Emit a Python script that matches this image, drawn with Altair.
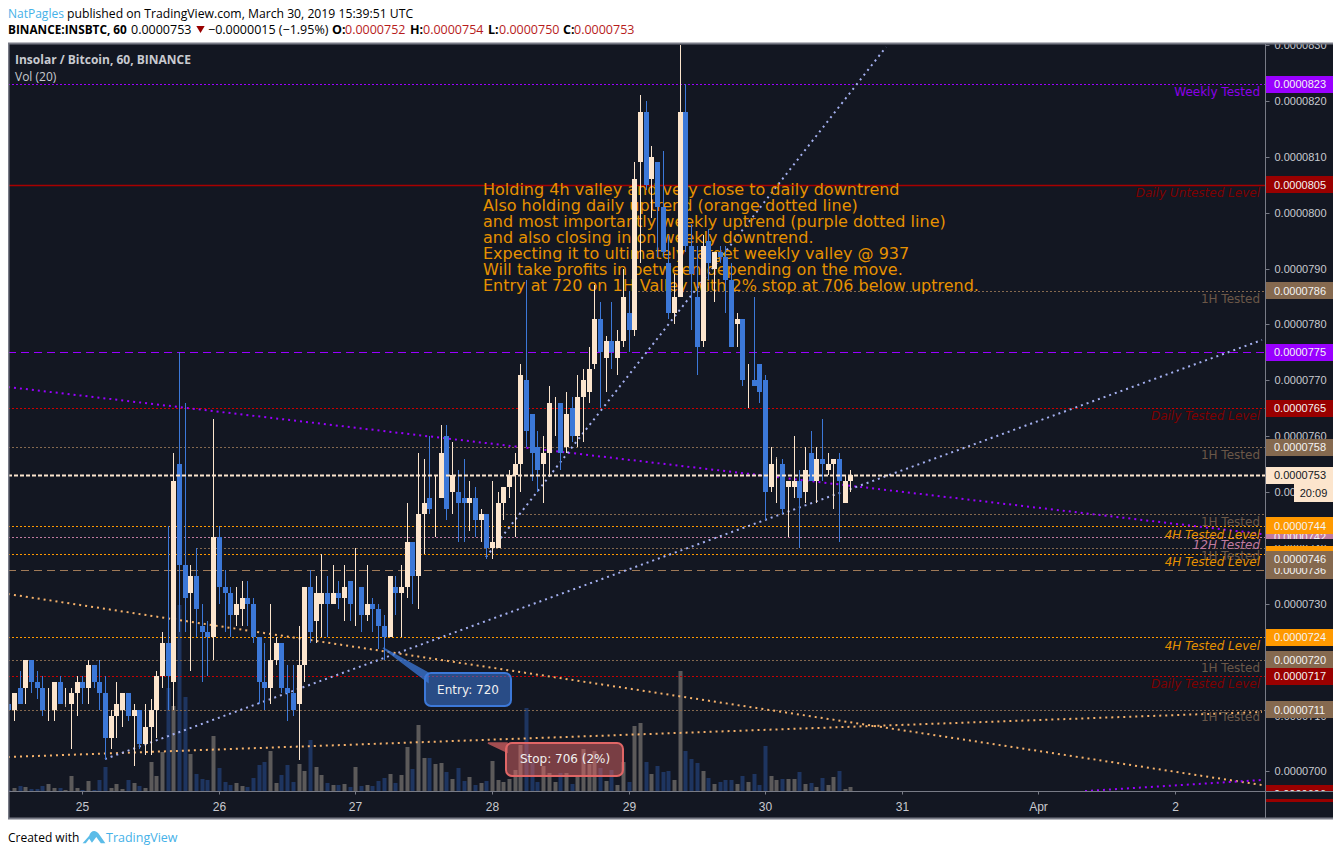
import altair as alt
import pandas as pd

# ---- hourly candles: hour index counted from 25 March 00:00, prices in 1e-7 BTC
FIRST_HOUR = -13
opens = [712,711,715,715,720,716,715,711,711,716,712,712,714,716,715,719,716,714,706,710,
         711,714,710,711,705,708,711,717,723,716,755,737,732,735,726,725,724,742,733,732,
         728,729,731,730,724,716,715,720,723,715,714,712,719,733,727,730,732,730,732,731,
         734,730,733,728,730,729,726,724,733,732,733,741,735,746,749,749,749,760,750,750,
         749,748,749,745,746,740,740,748,751,753,755,770,764,758,755,757,766,766,758,765,
         760,767,768,773,781,774,777,774,777,782,779,809,818,806,809,801,791,782,785,818,
         794,785,777,795,790,793,792,788,780,781,770,770,773,770,751,756,755,751,751,752,
         750,757,752,756,754,755,756,748,752]
closes = [711,714,712,720,716,715,711,711,716,712,712,714,716,715,719,716,714,706,710,712,
          714,710,711,705,708,711,717,723,717,752,737,731,735,729,725,724,742,733,732,728,
          730,731,730,724,716,715,720,723,715,714,711,719,733,725,732,732,730,732,731,733,
          730,730,728,730,729,726,724,735,732,733,741,735,746,748,747,749,757,747,753,748,
          748,749,745,746,740,741,748,751,753,755,771,761,757,754,757,766,766,757,764,760,
          767,770,772,781,775,777,775,777,785,779,806,818,805,810,801,793,782,785,818,794,
          789,776,794,791,793,792,788,776,781,770,770,769,768,750,755,756,747,752,752,749,
          754,752,756,755,755,756,752,752,753]
highs = [716,714,718,720,720,718,717,715,716,717,715,715,717,717,720,719,720,717,711,716,
         714,714,712,711,712,713,718,725,744,757,775,766,737,740,730,727,763,744,736,733,
         733,734,734,731,724,723,730,724,723,719,719,726,733,736,735,739,735,737,734,737,
         734,740,733,737,731,730,728,735,735,737,748,741,757,756,760,753,762,762,759,754,
         756,752,751,747,746,752,750,751,754,757,773,788,764,761,760,769,767,766,768,767,
         771,772,776,787,784,778,784,779,790,786,809,821,820,812,809,811,796,789,830,823,
         798,794,796,797,793,794,794,791,782,781,773,785,773,771,758,756,756,752,760,754,
         758,761,758,763,757,756,757,753,754]
lows = [707,709,712,712,714,713,710,709,709,712,712,704,710,712,712,715,711,702,704,706,
        708,709,701,704,703,703,706,715,711,711,725,725,718,724,716,717,720,730,725,724,
        726,726,726,723,712,711,712,719,714,709,710,702,716,723,723,724,724,730,729,727,
        727,726,725,727,725,722,720,724,728,724,731,730,729,739,746,742,749,745,746,741,
        741,743,742,741,738,738,740,745,749,742,750,758,752,750,748,753,760,754,757,759,
        758,759,766,772,765,768,772,771,776,775,778,791,804,799,792,792,781,780,785,793,
        779,771,776,788,784,791,782,776,776,769,765,769,766,745,750,748,746,742,749,740,
        748,752,748,752,753,747,741,748,750]
volumes = [1,3,5,4,2,2,5,7,3,3,1,15,3,1,10,1,11,24,3,7,
           2,11,8,5,3,29,15,39,103,85,186,94,37,17,12,11,55,23,9,6,
           8,5,4,13,26,29,40,8,16,26,9,27,20,51,24,16,8,6,6,7,
           4,24,5,6,5,10,13,17,8,16,44,22,66,33,33,27,28,19,12,23,
           10,14,6,8,10,30,11,9,12,21,46,83,28,9,25,18,9,18,18,7,
           16,42,27,40,23,10,21,6,29,9,65,68,29,17,25,19,20,11,120,40,
           32,28,20,13,7,9,11,11,7,15,9,17,6,45,15,11,12,12,12,19,
           7,8,4,13,6,14,20,2,4]

# ---- horizontal levels
level_prices = [823,805,786,775,765,758,746,744,742,740,739,736,724,720,717,711]
level_starts = [-13,-13,97,-13,-13,-13,73,-13,-13,20,-13,-13,-13,-13,-13,-13]
level_kinds  = ["purple_dot","dred_solid","brown","purple_dash","red_dot","brown","brown","orange","pink","brown","orange","brown_dash","orange","brown","red_dot","brown"]
KINDS = {
    "purple_dot": ("#9900ff", [2,2], 1),
    "dred_solid": ("#a80000", [20,0], 1.5),
    "purple_dash": ("#9900ff", [8,5], 1),
    "red_dot": ("#cc0000", [2,2], 1),
    "brown": ("#85694f", [2,2], 1),
    "brown_dash": ("#a07a58", [8,5], 1),
    "orange": ("#ff9900", [2,2], 1),
    "pink": ("#c27ba0", [2,2], 1),
}
LAST_PRICE = 753

# ---- trend lines: (hour, price) end points
trend_lines = [
    ("#9900ff", [-13.06,207.3], [768.8,742.5]),
    ("#f6b26b", [-13.06,207.3], [731.8,697.6]),
    ("#f6b26b", [-13.06,207.3], [702.5,710.7]),
    ("#a4b0f0", [4,207.3], [702.2,777.2]),
    ("#a4b0f0", [71,141.2], [738.3,829.7]),
    ("#9900ff", [176.2,207.3], [696.5,698.4]),
]

# ---- text
note_lines = [
    "Holding 4h valley and very close to daily downtrend",
    "Also holding daily uptrend (orange dotted line)",
    "and most importantly weekly uptrend (purple dotted line)",
    "and also closing in on weekly downtrend.",
    "Expecting it to ultimately target weekly valley @ 937",
    "Will take profits in between depending on the move.",
    "Entry at 720 on 1H Valley with 2% stop at 706 below uptrend.",
]
note_prices = [804.1,801.2,798.4,795.5,792.6,789.8,786.9]
level_labels = ["Weekly Tested","Daily Untested Level","1H Tested","Daily Tested Level","1H Tested","1H Tested",
                "4H Tested Level","12H Tested","1H Tested","4H Tested Level","4H Tested Level","1H Tested","Daily Tested Level","1H Tested"]
level_label_prices = [821.6,803.6,784.6,763.6,756.6,744.6,742.4,740.6,738.6,737.4,722.4,718.6,715.6,709.8]
level_label_kinds = ["#8b00e8","#7f0000","#6b5748","#7f0000","#6b5748","#6b5748","#e69100","#c27ba0","#6b5748","#e69100","#e69100","#6b5748","#7f0000","#6b5748"]
level_label_italic = [0,1,0,1,0,0,1,1,0,1,1,0,1,0]

# ---- price tags on the right axis (drawn in this order, later on top)
tag_texts  = ["0.0000823","0.0000805","0.0000786","0.0000775","0.0000765","0.0000758","0.0000753",
              "0.0000742","0.0000739","0.0000744","0.0000736","0.0000746","0.0000724","0.0000720","0.0000717","0.0000711","0.0000696"]
tag_prices = [823,805,786,775,765,758,753,742,738.8,744,736,738,724,720,717,711,696]
tag_colors = ["#9900ff","#990000","#85694f","#9900ff","#990000","#85694f","#fce5cd",
              "#c27ba0","#ff9900","#ff9900","#85694f","#85694f","#ff9900","#85694f","#990000","#85694f","#990000"]

y_ticks = [700,710,720,730,740,750,760,770,780,790,800,810,820,830]
x_ticks = [0,24,48,72,96,120,144,168,192]

# ---- layout
W, H = 1257, 747
RIGHT = 68
TOTAL = W + RIGHT
PAD = {"left":0,"top":36,"right":RIGHT,"bottom":54}
XMIN, XMAX = -13.06, 207.86
YMIN, YMAX = 696.5, 830.2
PX_PER_PRICE = 5.5875
BG = "#131722"; UP = "#fce5cd"; DOWN = "#3c78d8"; VOL_UP = "#5c5a5a"; VOL_DOWN = "#1e3560"
BORDER = "#787b86"; AXIS_TXT = "#c8cad0"; ORANGE = "#e69100"

xs = alt.Scale(domain=[XMIN, XMAX], nice=False, zero=False, round=True, padding=0)
ys = alt.Scale(domain=[YMIN, YMAX], nice=False, zero=False, round=True, padding=0)
xaxis = alt.Axis(orient="bottom", values=x_ticks, grid=False, domain=False, title=None,
        labelExpr="['25','26','27','28','29','30','31','Apr','2'][datum.value/24]", labelFont="Liberation Sans", labelFontSize=12,
        labelColor=AXIS_TXT, tickColor=BORDER, tickSize=3, labelPadding=7, labelOverlap=False, labelFlush=False)
yaxis = alt.Axis(orient="right", values=y_ticks, grid=False, domain=False, title=None,
        labelExpr="format(datum.value/10000000,'.7f')", labelFont="Liberation Sans", labelFontSize=11,
        labelColor=AXIS_TXT, tickColor=BORDER, tickSize=4, labelPadding=5, labelOverlap=False, labelFlush=False)
X = lambda f: alt.X(f, type="quantitative", scale=xs, axis=xaxis)
Y = lambda f: alt.Y(f, type="quantitative", scale=ys, axis=yaxis)

n = len(opens)
df = pd.DataFrame({"h":[FIRST_HOUR+i for i in range(n)],"o":opens,"c":closes,"hi":highs,"lo":lows,"vol":volumes})
df["top"] = df[["o","c"]].max(axis=1); df["bot"] = df[["o","c"]].min(axis=1)
up = df[df.c > df.o]; down = df[df.c < df.o]; doji = df[df.c == df.o]

ONE = alt.Data(values=[{}])
layers = []

# volume
for sub, col in ((pd.concat([up,doji]), VOL_UP), (down, VOL_DOWN)):
    layers.append(alt.Chart(sub).transform_calculate(
        vtop=f"{YMIN}+datum.vol/{PX_PER_PRICE}", vbase=str(YMIN)
    ).mark_bar(size=4, color=col, xOffset=0.5, orient="vertical").encode(x=X("h"), y=Y("vtop"), y2="vbase:Q"))

# level lines
lv = pd.DataFrame({"p":level_prices,"s":level_starts,"kind":level_kinds,"e":XMAX})
lv.loc[lv.s==-13,"s"] = XMIN
for kind,(col,dash,sw) in KINDS.items():
    layers.append(alt.Chart(lv[lv.kind==kind]).mark_rule(color=col, strokeDash=dash, strokeWidth=sw, yOffset=0.5)
                  .encode(x=X("s"), x2="e:Q", y=Y("p")))

# trend lines
for col, hs, ps in trend_lines:
    layers.append(alt.Chart(pd.DataFrame({"h":hs,"p":ps})).mark_line(color=col, strokeWidth=2, strokeDash=[2,4], clip=True)
                  .encode(x=X("h"), y=Y("p")))

# note text
layers.append(alt.Chart(pd.DataFrame({"t":note_lines,"p":note_prices,"h":70.4})).mark_text(
    align="left", baseline="middle", font="DejaVu Sans", fontSize=16, color=ORANGE).encode(x=X("h"), y=Y("p"), text="t:N"))

# level labels
ll = pd.DataFrame({"t":level_labels,"p":level_label_prices,"col":level_label_kinds,"it":level_label_italic,"h":207.0})
for it, style in ((0,"normal"),(1,"italic")):
    layers.append(alt.Chart(ll[ll.it==it]).mark_text(align="right", baseline="middle", font="DejaVu Sans", fontSize=12, fontStyle=style)
                  .encode(x=X("h"), y=Y("p"), text="t:N", color=alt.Color("col:N", scale=None)))

# call-outs
def callout(text, box, tip, fill, stroke, fo):
    h1,h2,p1,p2 = box
    tail = pd.DataFrame({"h":[tip[0],tip[1]],"a":[tip[2],tip[3]],"b":[tip[2],tip[4]]})
    b = pd.DataFrame({"h":[h1],"h2":[h2],"p":[p1],"p2":[p2],"t":[text],"hc":[(h1+h2)/2],"pc":[(p1+p2)/2]})
    return [
        alt.Chart(tail).mark_area(color=fill, opacity=fo+0.2, stroke=stroke, strokeWidth=1.5, orient="vertical").encode(x=X("h"), y=Y("a"), y2="b:Q"),
        alt.Chart(b).mark_rect(cornerRadius=6, fill=fill, fillOpacity=fo, stroke=stroke, strokeWidth=2).encode(x=X("h"), x2="h2:Q", y=Y("p"), y2="p2:Q"),
        alt.Chart(b).mark_text(font="DejaVu Sans", fontSize=12, color="#f0f0f0", baseline="middle").encode(x=X("hc"), y=Y("pc"), text="t:N"),
    ]
layers += callout("Entry: 720", (60.2,75.3,717.6,711.7), (52.85,60.75,722.1,717.6,716.0), "#3c78d8", "#3c78d8", 0.55)
layers += callout("Stop: 706 (2%)", (74.5,95.0,705.1,699.2), (71.3,74.6,705.1,705.1,703.5), "#e06666", "#e06666", 0.5)

# candles
for sub, col in ((pd.concat([up,doji]), UP), (down, DOWN)):
    layers.append(alt.Chart(sub).mark_rule(color=col, strokeWidth=1, xOffset=0.5, clip=True).encode(x=X("h"), y=Y("hi"), y2="lo:Q"))
for sub, col in ((up, UP), (down, DOWN)):
    layers.append(alt.Chart(sub).mark_bar(size=5, color=col, xOffset=0.5, orient="vertical").encode(x=X("h"), y=Y("top"), y2="bot:Q"))
layers.append(alt.Chart(doji).mark_tick(color=UP, thickness=1, size=5, xOffset=0.5, yOffset=0.5).encode(x=X("h"), y=Y("top")))

# last price line
layers.append(alt.Chart(pd.DataFrame({"p":[LAST_PRICE],"s":[XMIN],"e":[XMAX]})).mark_rule(color="#fce5cd", strokeDash=[4,2], strokeWidth=2, yOffset=0.5)
              .encode(x=X("s"), x2="e:Q", y=Y("p")))

# price tags
HALF = 8.5/PX_PER_PRICE
for txt_, p, col in zip(tag_texts, tag_prices, tag_colors):
    row = pd.DataFrame({"p":[p],"a":[p+HALF],"b":[p-HALF],"t":[txt_]})
    layers.append(alt.Chart(row).mark_rect(color=col).encode(x=alt.value(W), x2=alt.value(TOTAL), y=Y("a"), y2="b:Q"))
    layers.append(alt.Chart(row).mark_text(align="left", baseline="middle", font="Liberation Sans", fontSize=11,
                                           color=("#131722" if col=="#fce5cd" else "#f4f4f4"), dy=0.5)
                  .encode(x=alt.value(W+9), y=Y("p"), text="t:N"))
    if txt_ == "0.0000742":   # the gap just below the pink tag
        layers.append(alt.Chart(row).mark_rect(color=BG).encode(x=alt.value(W), x2=alt.value(TOTAL), y=alt.value(495), y2=alt.value(501)))

# countdown tag
layers.append(alt.Chart(ONE).mark_rect(color=UP).encode(x=alt.value(1286), x2=alt.value(TOTAL), y=alt.value(440), y2=alt.value(458)))
layers.append(alt.Chart(ONE).mark_text(text="20:09", font="Liberation Sans", fontSize=11, color="#131722", baseline="middle").encode(x=alt.value(1305.5), y=alt.value(449.5)))

# strip covering the clipped bottom tag
layers.append(alt.Chart(ONE).mark_rect(color=BG).encode(x=alt.value(W), x2=alt.value(TOTAL), y=alt.value(H), y2=alt.value(H+8)))

# frame lines
def hline(y, x1=0, x2=TOTAL, col=BORDER, w=1):
    return alt.Chart(ONE).mark_rule(color=col, strokeWidth=w).encode(x=alt.value(x1), x2=alt.value(x2), y=alt.value(y))
def vline(x, y1, y2, col=BORDER, w=1):
    return alt.Chart(ONE).mark_rule(color=col, strokeWidth=w).encode(x=alt.value(x), y=alt.value(y1), y2=alt.value(y2))
def block(x1,x2,y1,y2,col="white"):
    return alt.Chart(ONE).mark_rect(color=col).encode(x=alt.value(x1), x2=alt.value(x2), y=alt.value(y1), y2=alt.value(y2))

layers += [
    block(0, TOTAL, -36, -1),
    block(0, TOTAL, 774, 815),
    hline(H+0.5),
    hline(-0.5, w=2),
    hline(774.5, w=2),
    vline(W+0.5, -1, 775),
    vline(0.5, -1, 775, w=2),
]

def txt(s, x, y, col="black", size=12.5, weight="normal", font="Open Sans", align="left"):
    return alt.Chart(ONE).mark_text(text=s, font=font, fontSize=size, fontWeight=weight, color=col, align=align, baseline="middle").encode(x=alt.value(x), y=alt.value(y))

RED = "#990000"
R = "#b71c1c"
layers += [
    txt("NatPagles", 0, -30, "#45b1e8", size=12),
    txt("published on TradingView.com, March 30, 2019 15:39:51 UTC", 59, -30, size=12.2),
    txt("BINANCE:INSBTC, 60", 0, -14.5, weight="bold", size=11.8),
    txt("0.0000753", 123, -14.5),
    alt.Chart(ONE).mark_point(shape="triangle-down", filled=True, color=RED, size=70, opacity=1).encode(x=alt.value(192.5), y=alt.value(-14.5)),
    txt("\u22120.0000015 (\u22121.95%)", 200, -14.5),
    txt("O:", 324, -14.5, weight="bold"), txt("0.0000752", 337, -14.5, R),
    txt("H:", 402, -14.5, weight="bold"), txt("0.0000754", 415, -14.5, R),
    txt("L:", 480, -14.5, weight="bold"), txt("0.0000750", 491, -14.5, R),
    txt("C:", 555, -14.5, weight="bold"), txt("0.0000753", 566, -14.5, R),
    txt("Insolar / Bitcoin, 60, BINANCE", 7, 16, "#c8cad0", weight="bold", size=12),
    txt("Vol (20)", 7, 33, "#c8cad0", size=12),
    txt("Created with", 0, 794, size=12),
    alt.Chart(ONE).mark_point(filled=True, color="#5bbce8", opacity=1, size=520,
        shape="M-1,0.55 L-0.42,-0.1 C-0.3,-0.55 0.1,-0.7 0.4,-0.3 L1,0.55 L0.6,0.55 L0.2,0 L-0.18,0.5 L-0.42,0.15 L-0.72,0.55 Z"
        ).encode(x=alt.value(86), y=alt.value(793)),
    txt("TradingView", 98, 794, "#45b1e8", size=12.5),
]

chart = alt.layer(*layers).properties(
    width=W, height=H, padding=PAD, autosize=alt.AutoSizeParams(type="none"), background=BG,
).configure_view(stroke=None, fill=None)

chart.save("out.html", embed_options={"renderer": "svg", "actions": False})
